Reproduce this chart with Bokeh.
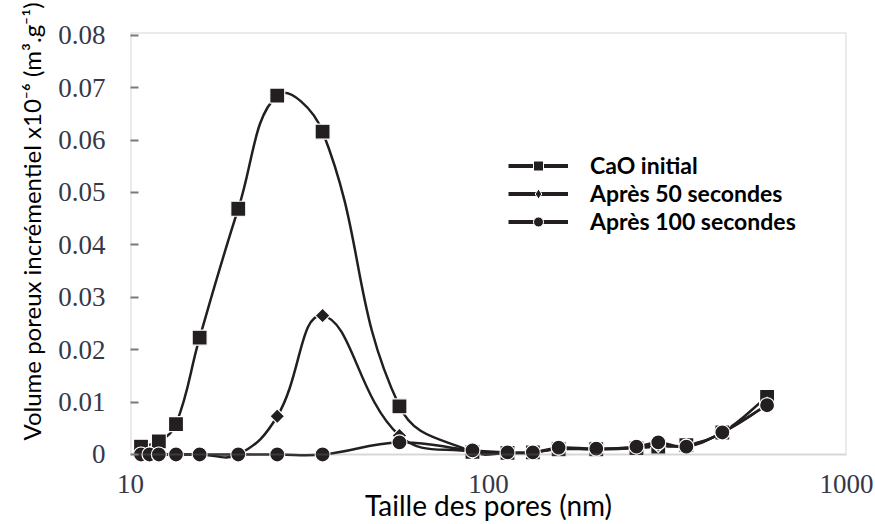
import numpy as np
from bokeh.plotting import figure
from bokeh.models import (Range1d, FixedTicker, PrintfTickFormatter, BoxAnnotation,
                          Legend, LegendItem, ColumnDataSource, Title)
from bokeh.embed import file_html
from bokeh.resources import INLINE

# Pore size (nm) at each measurement
pores_cao = [10.7, 12.0, 13.4, 15.6, 20.0, 25.7, 34.4, 56.4, 90.2, 113, 133, 157,
             200, 259, 298, 357, 450, 600]
pores_50 = [10.7, 11.3, 12.0, 13.4, 15.6, 20.0, 25.7, 34.4, 56.4, 90.2, 113, 133,
            157, 200, 259, 298, 357, 450, 600]
pores_100 = [10.7, 11.3, 12.0, 13.4, 15.6, 20.0, 25.7, 34.4, 56.4, 90.2, 113, 133,
             157, 200, 259, 298, 357, 450, 600]

# Incremental pore volume x1e-6 (m3/g)
vol_cao = [0.0015, 0.0025, 0.0058, 0.0223, 0.0469, 0.0685, 0.0616, 0.0092, 0.0005,
           0.0003, 0.0004, 0.0010, 0.0010, 0.0012, 0.0015, 0.0018, 0.0042, 0.0110]
vol_50 = [0.0, 0.0, 0.0, 0.0, 0.0, 0.0, 0.0073, 0.0265, 0.0036, 0.0005, 0.0003, 0.0004,
          0.0011, 0.0010, 0.0013, 0.0018, 0.0016, 0.0042, 0.0095]
vol_100 = [0.0, 0.0, 0.0, 0.0, 0.0, 0.0, 0.0, 0.0, 0.0023, 0.0008, 0.0004, 0.0004,
           0.0013, 0.0011, 0.0015, 0.0023, 0.0015, 0.0042, 0.0094]

series_names = ["CaO initial", "Après 50 secondes", "Après 100 secondes"]
y_ticks = [0, 0.01, 0.02, 0.03, 0.04, 0.05, 0.06, 0.07, 0.08]
x_ticks = [10, 100, 1000]

INK = "#231f20"
FRAME = "#7a7a7a"
TICK_TEXT = "#363848"

# rough pixels per decade / per unit, used only to shape the smoothed curves
PX_DECADE, PX_UNIT = 358.0, 5240.0


def smooth_segments(xs, ys, tension=0.42):
    """Cubic Bezier pieces through the points (chord-weighted cardinal spline)."""
    lx = np.log10(np.asarray(xs, dtype=float))
    y = np.asarray(ys, dtype=float)
    u, v = lx * PX_DECADE, y * PX_UNIT
    n = len(u)
    prev_i = np.maximum(np.arange(n) - 1, 0)
    next_i = np.minimum(np.arange(n) + 1, n - 1)
    d_prev = np.hypot(u - u[prev_i], v - v[prev_i])
    d_next = np.hypot(u[next_i] - u, v[next_i] - v)
    tot = np.where(d_prev + d_next > 0, d_prev + d_next, 1.0)
    tu, tv = u[next_i] - u[prev_i], v[next_i] - v[prev_i]
    fa, fb = tension * d_prev / tot, tension * d_next / tot
    # outgoing (after point) and incoming (before point) control points
    out_u, out_v = u + fb * tu, v + fb * tv
    in_u, in_v = u - fa * tu, v - fa * tv
    return ColumnDataSource(dict(
        x0=10 ** lx[:-1], y0=y[:-1], x1=10 ** lx[1:], y1=y[1:],
        cx0=10 ** (out_u[:-1] / PX_DECADE), cy0=out_v[:-1] / PX_UNIT,
        cx1=10 ** (in_u[1:] / PX_DECADE), cy1=in_v[1:] / PX_UNIT))


p = figure(width=875, height=524, x_axis_type="log",
           x_range=Range1d(10, 1000), y_range=Range1d(-0.00172, 0.08053),
           output_backend="svg", toolbar_location=None,
           min_border_left=130, min_border_right=29,
           min_border_top=32, min_border_bottom=61)
p.grid.visible = False
p.outline_line_color = None
p.background_fill_color = "white"
p.border_fill_color = "white"

# frame box, with its bottom edge on zero
p.add_layout(BoxAnnotation(bottom=0, fill_alpha=0, line_color=FRAME, line_width=2))

# y axis
p.yaxis.ticker = FixedTicker(ticks=y_ticks, minor_ticks=[])
p.yaxis.formatter = PrintfTickFormatter(format="%g")
p.yaxis.axis_line_color = None
p.yaxis.major_tick_in = 8
p.yaxis.major_tick_out = 0
p.yaxis.major_tick_line_color = FRAME
p.yaxis.major_tick_line_width = 2
p.yaxis.minor_tick_line_color = None
p.yaxis.major_label_standoff = 25
p.yaxis.major_label_text_font = "Liberation Serif"
p.yaxis.major_label_text_font_size = "27px"
p.yaxis.major_label_text_color = TICK_TEXT

# x axis
p.xaxis.ticker = FixedTicker(ticks=x_ticks, minor_ticks=[])
p.xaxis.formatter = PrintfTickFormatter(format="%d")
p.xaxis.axis_line_color = None
p.xaxis.major_tick_line_color = None
p.xaxis.minor_tick_line_color = None
p.xaxis.major_label_standoff = 5
p.xaxis.major_label_text_font = "Liberation Serif"
p.xaxis.major_label_text_font_size = "27px"
p.xaxis.major_label_text_color = TICK_TEXT
p.xaxis.axis_label = "Taille des pores (nm)"
p.xaxis.axis_label_text_font = "Lato"
p.xaxis.axis_label_text_font_style = "normal"
p.xaxis.axis_label_text_font_size = "28px"
p.xaxis.axis_label_text_color = "black"
p.xaxis.axis_label_standoff = -8

# y title, set beside the tick labels and shifted towards the top
p.add_layout(Title(text="Volume poreux incrémentiel x10⁻⁶ (m³.g⁻¹)", align="left",
                   offset=23, standoff=19, text_font="Lato",
                   text_font_style="normal", text_font_size="24px",
                   text_color="black"), "left")

marker_styles = [
    dict(marker="square", size=15, angle=0.0),
    dict(marker="square", size=10.5, angle=np.pi / 4),
    dict(marker="circle", size=15, angle=0.0),
]
key_markers = ["square", "diamond", "circle"]
data = [(pores_cao, vol_cao), (pores_50, vol_50), (pores_100, vol_100)]

items = []
for name, (xs, ys), style, km in zip(series_names, data, marker_styles, key_markers):
    p.bezier(x0="x0", y0="y0", x1="x1", y1="y1", cx0="cx0", cy0="cy0",
             cx1="cx1", cy1="cy1", source=smooth_segments(xs, ys),
             line_color=INK, line_width=2.5)
    p.scatter(xs, ys, marker=style["marker"], size=style["size"],
              angle=style["angle"], fill_color=INK, line_color="white",
              line_width=1.2)
    # legend keys: a thick line with the series marker on it
    key_line = p.line(x=[np.nan], y=[np.nan], line_color=INK, line_width=4)
    key_mark = p.scatter(x=[np.nan], y=[np.nan], marker=km, fill_color=INK,
                         line_color="white", line_width=1)
    items.append(LegendItem(label=name, renderers=[key_line, key_mark]))

legend = Legend(items=items, location=(378, 228), glyph_width=60, glyph_height=25,
                spacing=-5, padding=0, margin=0, label_standoff=22,
                label_text_font="Lato", label_text_font_style="bold",
                label_text_font_size="23px", label_text_color="black",
                border_line_color=None, background_fill_alpha=0)
p.add_layout(legend)

open("out.html", "w").write(file_html(p, INLINE))
